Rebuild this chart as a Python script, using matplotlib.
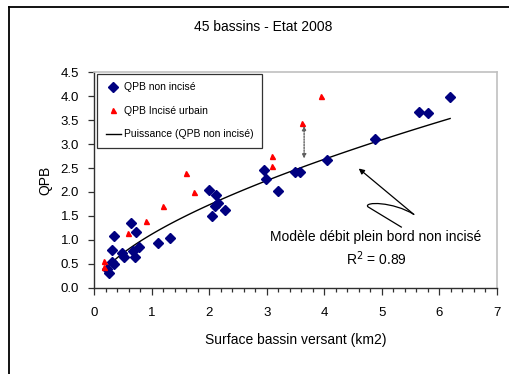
import numpy as np
import matplotlib
matplotlib.use('Agg')
import matplotlib.pyplot as plt
from matplotlib.path import Path
from matplotlib.patches import PathPatch
from matplotlib.lines import Line2D
from matplotlib.ticker import MultipleLocator

plt.rcParams['font.family'] = ['Liberation Sans', 'DejaVu Sans']

# QPB non incise (surface km2, QPB)
blue_x = [0.22, 0.26, 0.31, 0.35, 0.31, 0.35, 0.49, 0.51, 0.64, 0.67, 0.70, 0.72, 0.77,
          1.10, 1.32, 1.99, 2.05, 2.12, 2.10, 2.15, 2.27, 2.96, 2.98, 3.19, 3.49, 3.57,
          4.04, 4.89, 5.64, 5.80, 6.19]
blue_y = [0.39, 0.30, 0.54, 0.49, 0.79, 1.09, 0.73, 0.65, 1.35, 0.77, 0.65, 1.16, 0.85,
          0.93, 1.04, 2.05, 1.50, 1.94, 1.71, 1.78, 1.62, 2.46, 2.28, 2.03, 2.41, 2.41,
          2.67, 3.10, 3.67, 3.64, 3.99]

# QPB incise urbain
red_x = [0.17, 0.17, 0.58, 0.90, 1.19, 1.59, 1.73, 3.09, 3.09, 3.62, 3.95]
red_y = [0.56, 0.44, 1.14, 1.40, 1.71, 2.40, 2.00, 2.75, 2.55, 3.44, 4.01]

# annotation squiggle (data coords)
squig_pts = [(5.35, 1.26), (4.76, 1.69), (4.68, 1.80), (5.20, 1.80), (5.56, 1.53)]
arrow_tip = (4.60, 2.49)

fig = plt.figure(figsize=(5.09, 3.74), dpi=100)
ax = fig.add_axes([0.1853, 0.2307, 0.7905, 0.576])

# figure frame (left and top only, the rest is cropped)
fig.add_artist(Line2D([9 / 509, 9 / 509], [0, 1 - 7 / 374], color='black', lw=1.3,
                      transform=fig.transFigure))
fig.add_artist(Line2D([9 / 509, 1], [1 - 7 / 374, 1 - 7 / 374], color='black', lw=1.3,
                      transform=fig.transFigure))

ax.plot(blue_x, blue_y, 'D', color='#000080', ms=4.6, mec='#000080', ls='none',
        label='QPB non incisé', zorder=3)
ax.plot(red_x, red_y, '^', color='#ff0000', ms=3.6, mec='#ff0000', ls='none',
        label='QPB Incisé urbain', zorder=3)

# power trendline fitted on non incised points
b, ln_a = np.polyfit(np.log(blue_x), np.log(blue_y), 1)
xs = np.linspace(min(blue_x), max(blue_x), 100)
ax.plot(xs, np.exp(ln_a) * xs ** b, color='black', lw=1.0,
        label='Puissance (QPB non incisé)', zorder=2)

# dotted double arrow
ax.annotate('', xy=(3.65, 3.38), xytext=(3.65, 2.70),
            arrowprops=dict(arrowstyle='<|-|>', ls=(0, (1, 1)), color='#606060',
                            lw=1.0, mutation_scale=6, shrinkA=0, shrinkB=0))

# squiggle + arrow
codes = [Path.MOVETO, Path.LINETO, Path.CURVE4, Path.CURVE4, Path.CURVE4]
ax.add_patch(PathPatch(Path(squig_pts, codes), fill=False, lw=0.9, color='black'))
ax.annotate('', xy=arrow_tip, xytext=squig_pts[-1],
            arrowprops=dict(arrowstyle='-|>', color='black', lw=0.9,
                            mutation_scale=8, shrinkA=0, shrinkB=0))

ax.text(4.90, 1.06, 'Modèle débit plein bord non incisé', ha='center', va='center',
        fontsize=10)
ax.text(4.90, 0.61, 'R$^2$ = 0.89', ha='center', va='center', fontsize=10)

ax.set_xlim(0, 7)
ax.set_ylim(0, 4.5)
ax.xaxis.set_major_locator(MultipleLocator(1))
ax.xaxis.set_minor_locator(MultipleLocator(0.2))
ax.yaxis.set_major_locator(MultipleLocator(0.5))
ax.yaxis.set_major_formatter(plt.FormatStrFormatter('%.1f'))
ax.tick_params(axis='x', which='major', direction='out', length=5, width=0.9,
               labelsize=9.5, pad=9, color='#303030')
ax.tick_params(axis='x', which='minor', direction='out', length=3, width=0.9,
               color='#303030')
ax.tick_params(axis='y', which='major', direction='out', length=4, width=0.9,
               labelsize=9.5, pad=7, color='#303030')

for side in ['left', 'bottom']:
    ax.spines[side].set_color('#303030')
    ax.spines[side].set_linewidth(1.0)
for side in ['top', 'right']:
    ax.spines[side].set_color('#c0c0c0')
    ax.spines[side].set_linewidth(1.2)

ax.set_xlabel('Surface bassin versant (km2)', fontsize=10, labelpad=10)
ax.set_ylabel('QPB', fontsize=10, labelpad=6)
fig.text(263 / 509, 1 - 27 / 374, '45 bassins - Etat 2008', ha='center', va='center',
         fontsize=10)

leg = ax.legend(loc='upper left', bbox_to_anchor=(0.0075, 0.992), fontsize=7.5,
                frameon=True, fancybox=False, borderpad=0.8, labelspacing=1.3,
                handlelength=1.5, handletextpad=0.25, borderaxespad=0)
leg.get_frame().set_edgecolor('black')
leg.get_frame().set_linewidth(0.9)

fig.savefig('out.png', dpi=100)
